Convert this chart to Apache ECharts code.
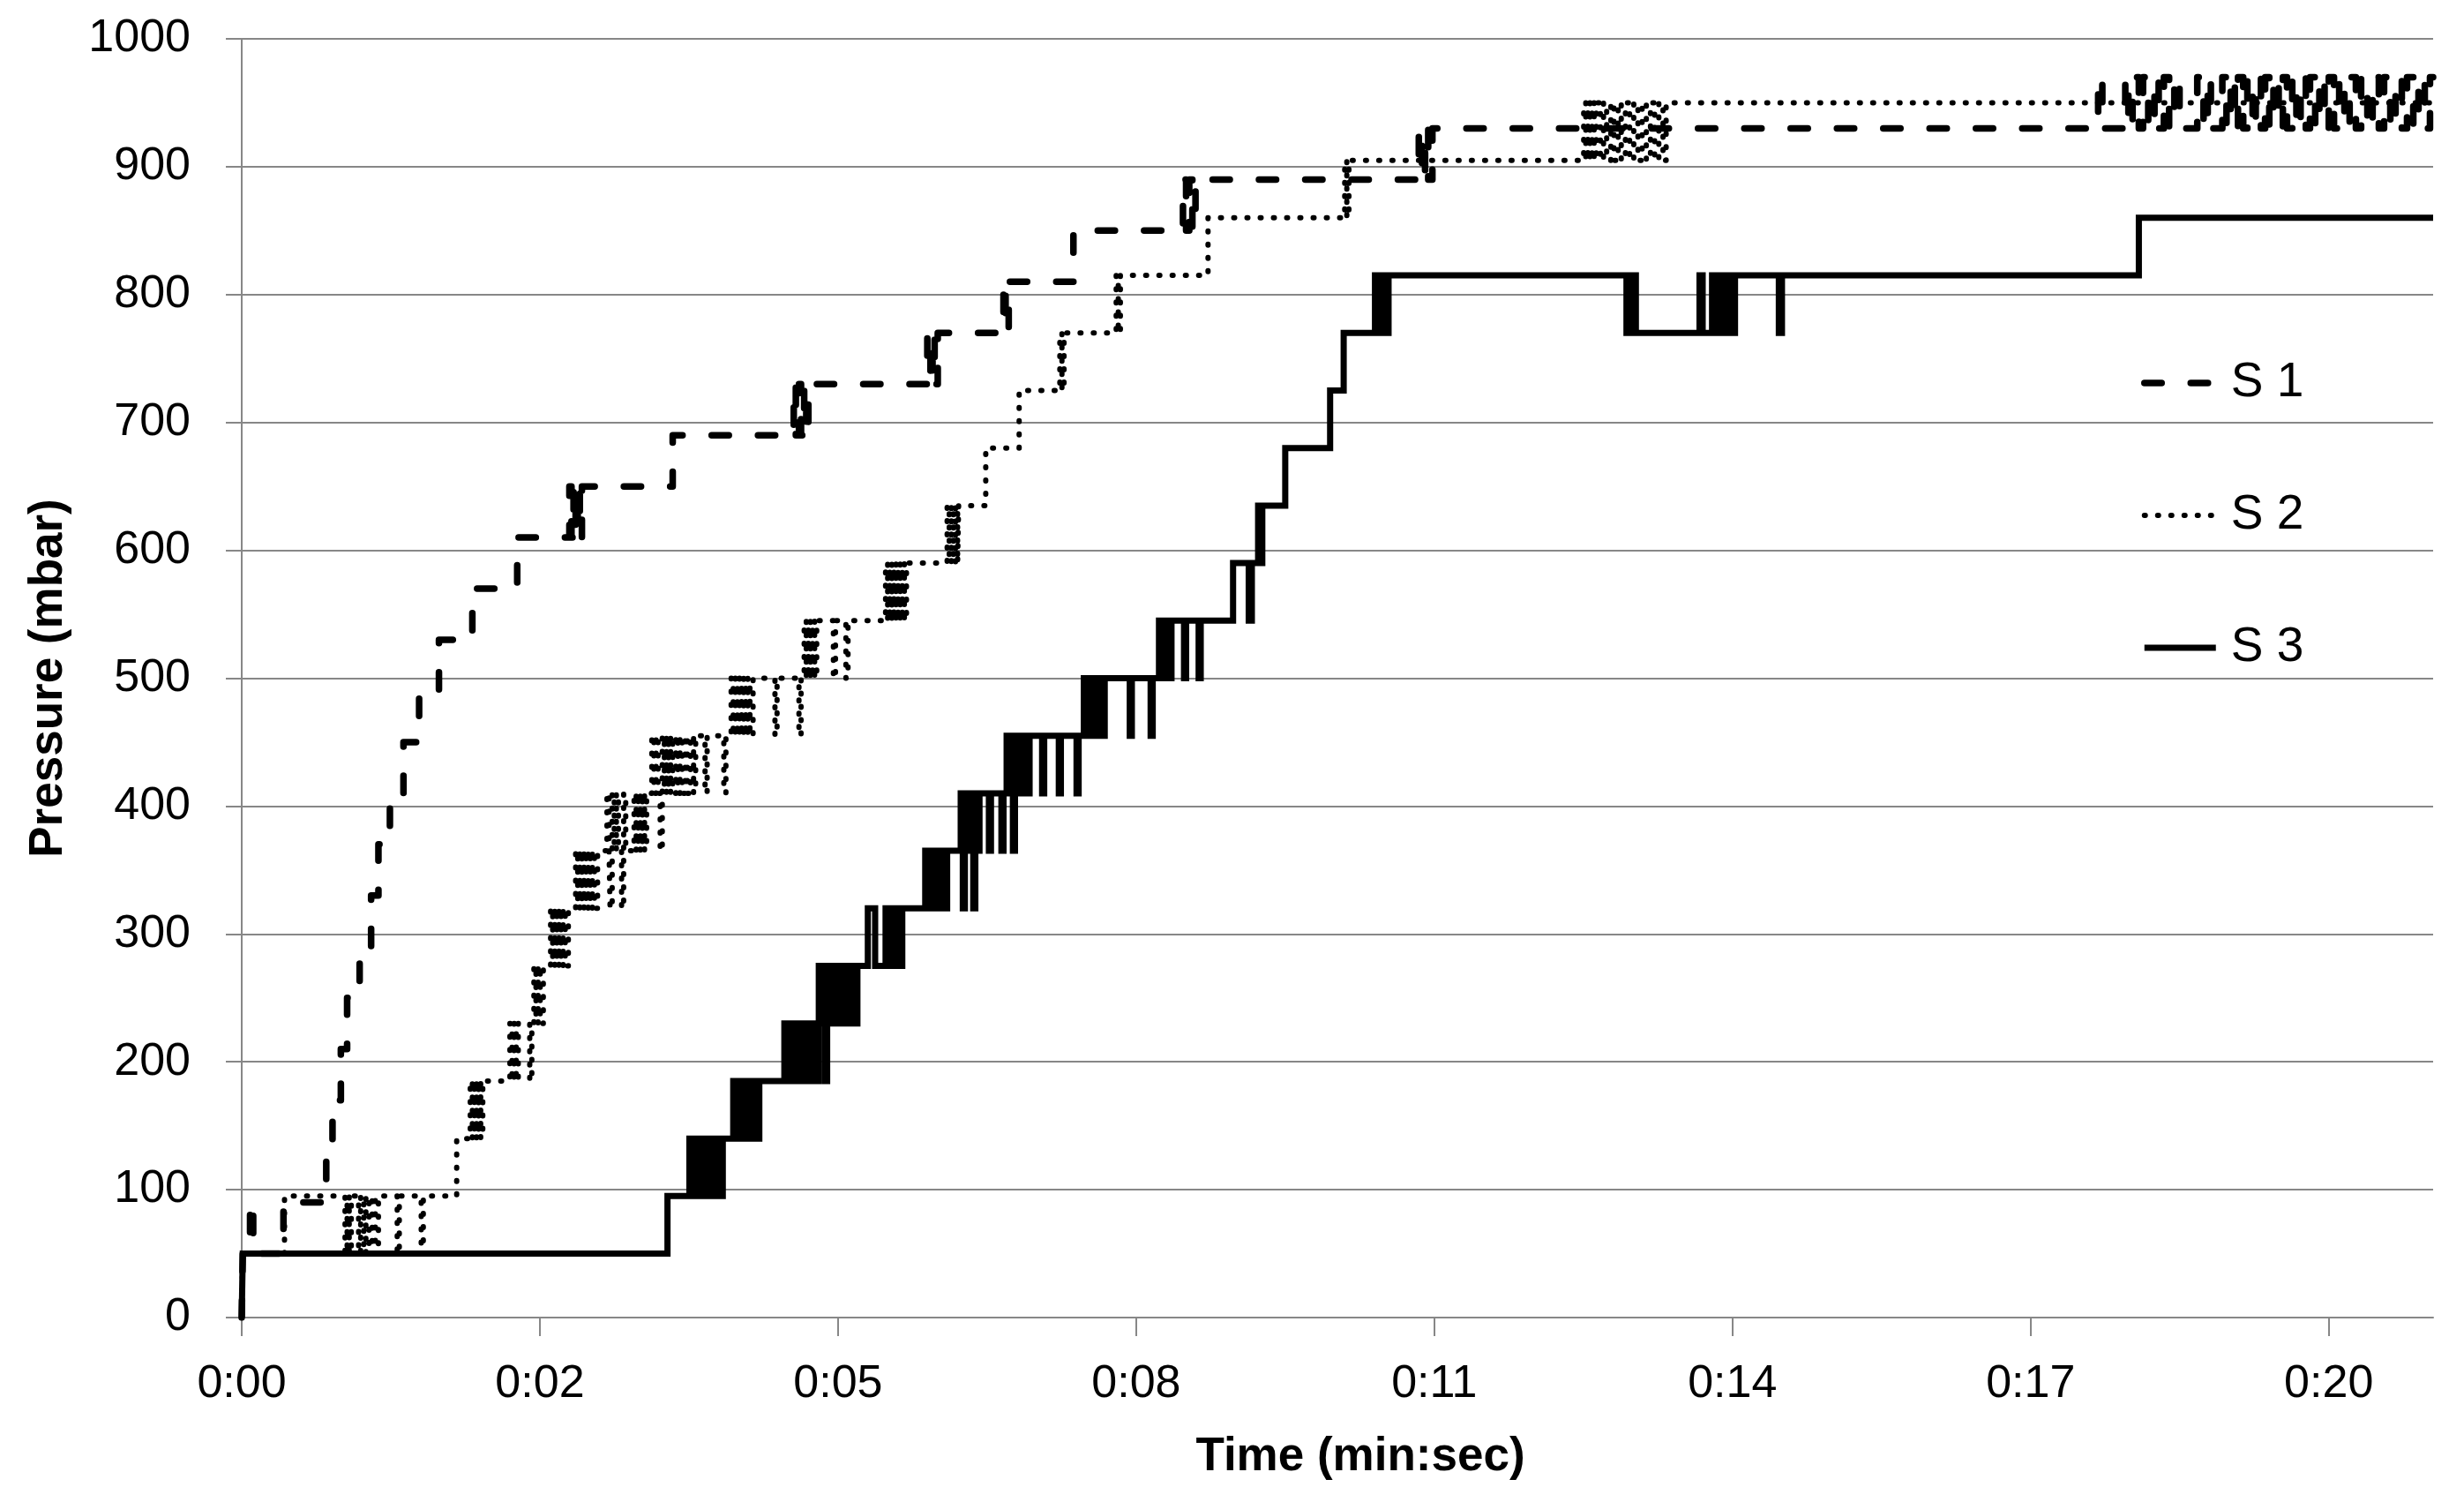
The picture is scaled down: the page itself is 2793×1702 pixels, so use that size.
<!DOCTYPE html>
<html>
<head>
<meta charset="utf-8">
<script src="https://cdn.jsdelivr.net/npm/echarts@6/dist/echarts.min.js"></script>
<style>
html,body{margin:0;padding:0;background:#ffffff;}
#chart{width:2793px;height:1702px;}
</style>
</head>
<body>
<div id="chart"></div>
<script>
// ---------- data ----------
const seriesNames = ['S 1', 'S 2', 'S 3'];
const xTickLabels = ['0:00', '0:02', '0:05', '0:08', '0:11', '0:14', '0:17', '0:20'];
const xTickStep = 20 / 7;          // seconds between labelled ticks
const xMaxSec = 21;                 // end of time axis (s)
const yTickMin = 0, yTickMax = 1000, yTickStep = 100;

// [time (s), pressure (mbar)] – value holds from this time until the next point
const s1 = [
  [0,0],[0.01,50],[0.08,90],[0.11,50],[0.40,90],[0.81,130],[0.87,170],[0.95,210],[1.01,250],
  [1.13,290],[1.24,330],[1.31,370],[1.42,410],[1.55,450],[1.70,490],[1.89,530],[2.21,570],
  [2.64,610],[3.14,650],[3.16,610],[3.18,650],[3.20,610],[3.22,650],[3.24,610],[3.26,650],
  [4.13,690],[5.29,730],[5.31,690],[5.34,730],[5.36,690],[5.39,730],[5.41,690],[5.43,730],
  [6.57,770],[6.60,730],[6.62,770],[6.64,730],[6.67,770],[7.30,810],[7.32,770],[7.35,810],
  [7.97,850],[9.02,890],[9.05,850],[9.08,890],[9.11,850],[9.14,890],
  [11.28,930],[11.31,890],[11.34,930],[11.37,890],[11.41,930],
  [17.79,970],[17.83,930],
  [18.05,970],[18.08,930],[18.12,970],[18.18,930],[18.22,970],[18.27,930],
  [18.33,970],[18.37,930],[18.42,970],[18.47,930],[18.52,970],[18.57,930],
  [18.74,970],[18.80,930],[18.84,970],[18.87,930],
  [18.98,970],[19.02,930],[19.06,970],[19.10,930],[19.13,970],[19.18,930],[19.22,970],[19.27,930],
  [19.30,970],[19.35,930],[19.39,970],[19.43,930],[19.47,970],[19.52,930],[19.56,970],[19.60,930],
  [19.65,970],[19.69,930],[19.73,970],[19.78,930],[19.82,970],[19.87,930],[19.91,970],[19.96,930],
  [20.00,970],[20.05,930],[20.10,970],[20.15,930],[20.20,970],[20.26,930],[20.31,970],[20.37,930],
  [20.42,970],[20.48,930],[20.53,970],[20.59,930],[20.64,970],[20.70,930],[20.75,970],[20.81,930],
  [20.86,970],[20.92,930],[20.97,970],[21,970]
];

const s2 = [
  [0,0],[0.01,50],[0.41,95],[0.99,50],[1.01,95],[1.03,50],[1.05,95],[1.12,50],[1.14,95],
  [1.17,50],[1.19,95],[1.22,50],[1.25,95],[1.28,50],[1.31,95],[1.49,50],[1.51,95],[1.72,50],[1.74,95],
  [2.06,140],[2.19,185],[2.21,140],[2.23,185],[2.25,140],[2.27,185],[2.29,140],[2.31,185],
  [2.57,230],[2.59,185],[2.61,230],[2.63,185],[2.65,230],[2.76,185],[2.78,230],
  [2.80,275],[2.82,230],[2.84,275],[2.86,230],[2.89,275],
  [2.96,320],[2.98,275],[3.00,320],[3.02,275],[3.04,320],[3.06,275],[3.08,320],[3.10,275],[3.13,320],
  [3.20,365],[3.22,320],[3.24,365],[3.26,320],[3.28,365],[3.30,320],[3.32,365],[3.34,320],
  [3.36,365],[3.38,320],[3.41,365],
  [3.50,410],[3.52,365],[3.53,320],[3.55,410],[3.57,365],[3.59,410],[3.61,365],[3.64,320],
  [3.66,410],[3.68,365],[3.76,410],[3.78,365],[3.80,410],[3.82,365],[3.84,410],[3.86,365],[3.88,410],
  [3.93,455],[3.95,410],[3.97,455],[3.99,410],[4.01,365],[4.03,455],[4.05,410],[4.07,455],
  [4.09,410],[4.11,455],[4.13,410],[4.16,455],[4.18,410],[4.20,455],[4.22,410],[4.25,455],
  [4.27,410],[4.30,455],[4.33,410],[4.35,455],[4.44,410],[4.46,455],[4.62,410],[4.64,455],
  [4.69,500],[4.71,455],[4.73,500],[4.75,455],[4.77,500],[4.79,455],[4.81,500],[4.83,455],
  [4.85,500],[4.87,455],[4.90,500],[5.11,455],[5.13,500],[5.34,455],[5.36,500],
  [5.39,545],[5.41,500],[5.43,545],[5.45,500],[5.47,545],[5.49,500],[5.51,545],
  [5.67,500],[5.69,545],[5.79,500],[5.81,545],
  [6.17,590],[6.19,545],[6.21,590],[6.23,545],[6.25,590],[6.27,545],[6.29,590],[6.31,545],
  [6.33,590],[6.35,545],[6.37,590],
  [6.76,635],[6.78,590],[6.80,635],[6.82,590],[6.84,635],[6.86,590],[6.87,635],
  [7.13,680],[7.45,725],[7.84,770],[7.86,725],[7.88,770],[8.38,815],[8.40,770],[8.42,815],
  [9.26,860],[10.57,905],[10.59,860],[10.61,905],
  [12.86,950],[12.88,905],[12.90,950],[12.92,905],[12.94,950],[12.96,905],[12.98,950],
  [13.02,905],[13.05,950],[13.08,905],[13.12,950],[13.15,905],[13.19,950],[13.22,905],
  [13.26,950],[13.30,905],[13.34,950],[13.38,905],[13.42,950],[13.46,905],[13.50,950],
  [13.54,905],[13.58,950],[13.62,905],[13.65,950],[21,950]
];

const s3 = [
  [0,0],[0.01,50],[4.08,95],
  [4.29,140],[4.31,95],[4.33,140],[4.35,95],[4.37,140],[4.39,95],[4.41,140],[4.43,95],
  [4.45,140],[4.47,95],[4.49,140],[4.51,95],[4.53,140],[4.55,95],[4.57,140],[4.59,95],[4.61,140],
  [4.71,185],[4.73,140],[4.75,185],[4.77,140],[4.79,185],[4.81,140],[4.83,185],[4.85,140],
  [4.87,185],[4.89,140],[4.91,185],[4.93,140],[4.96,185],
  [5.20,230],[5.22,185],[5.24,230],[5.26,185],[5.28,230],[5.30,185],[5.32,230],[5.34,185],
  [5.36,230],[5.38,185],[5.40,230],[5.42,185],[5.44,230],[5.46,185],[5.48,230],[5.50,185],
  [5.53,275],[5.55,230],[5.57,275],[5.59,185],[5.61,275],[5.63,230],[5.65,275],[5.67,230],
  [5.69,275],[5.71,230],[5.73,275],[5.75,230],[5.78,275],[5.81,230],[5.84,275],[5.88,230],[5.90,275],
  [6.00,320],[6.07,275],
  [6.17,320],[6.19,275],[6.21,320],[6.23,275],[6.25,320],[6.27,275],[6.29,320],[6.31,275],[6.33,320],
  [6.55,365],[6.57,320],[6.59,365],[6.61,320],[6.63,365],[6.65,320],[6.67,365],[6.69,320],
  [6.71,365],[6.73,320],[6.76,365],
  [6.89,410],[6.91,320],[6.93,410],[6.95,365],[6.97,410],[6.99,365],[7.01,320],[7.03,410],
  [7.05,365],[7.07,410],[7.16,365],[7.18,410],[7.28,365],[7.30,410],
  [7.33,455],[7.35,410],[7.37,455],[7.39,365],[7.41,455],[7.43,410],[7.45,455],[7.47,410],
  [7.50,455],[7.53,410],[7.55,455],[7.67,410],[7.69,455],[7.83,410],[7.85,455],[8.00,410],[8.02,455],
  [8.07,500],[8.09,455],[8.11,500],[8.13,455],[8.15,500],[8.17,455],[8.19,500],[8.21,455],
  [8.23,500],[8.25,455],[8.27,500],[8.51,455],[8.53,500],[8.71,455],[8.73,500],
  [8.79,545],[8.81,500],[8.83,545],[8.85,500],[8.87,545],[8.89,500],[8.91,545],
  [9.03,500],[9.05,545],[9.17,500],[9.19,545],
  [9.50,590],[9.65,545],[9.68,590],[9.74,635],[9.76,590],[9.78,635],[10.00,680],[10.43,725],[10.56,770],
  [10.86,815],[10.88,770],[10.90,815],[10.92,770],[10.94,815],[10.96,770],[10.99,815],
  [13.27,770],[13.29,815],[13.31,770],[13.33,815],[13.36,770],
  [13.97,815],[14.00,770],[14.09,815],[14.11,770],[14.13,815],[14.16,770],[14.19,815],
  [14.22,770],[14.25,815],[14.28,770],[14.31,815],[14.73,770],[14.76,815],
  [18.18,860],[21,860]
];

// ---------- chart ----------
const labelFont = "'Liberation Sans', Arial, sans-serif";
const titleFont = "'Liberation Sans Narrow', 'Liberation Sans', Arial, sans-serif";
const gridGray = '#878787';

const xTickValues = xTickLabels.map((_, i) => i * xTickStep);

function xLabel(v) {
  for (let i = 0; i < xTickValues.length; i++) {
    if (Math.abs(xTickValues[i] - v) < 1e-6) return xTickLabels[i];
  }
  return '';
}

const chart = echarts.init(document.getElementById('chart'), null, {renderer: 'canvas'});

const option = {
  backgroundColor: '#ffffff',
  animation: false,
  grid: {left: 274, right: 35, top: 44, bottom: 209, containLabel: false},
  legend: {
    data: seriesNames,
    orient: 'vertical',
    left: 2427,
    top: 406,
    padding: 0,
    itemWidth: 81,
    itemHeight: 14,
    itemGap: 94,
    itemStyle: {opacity: 0},
    lineStyle: {width: 'inherit'},
    textStyle: {
      fontFamily: titleFont, fontSize: 55, color: '#000000',
      lineHeight: 56, padding: [0, 0, 0, 12]
    }
  },
  xAxis: {
    type: 'value',
    min: 0,
    max: xMaxSec,
    name: 'Time (min:sec)',
    nameLocation: 'middle',
    nameGap: 132,
    nameTextStyle: {
      fontFamily: titleFont, fontSize: 53, fontWeight: 'bold', color: '#000000',
      padding: [0, 0, 0, 52]
    },
    axisLine: {show: true, onZero: false, lineStyle: {color: gridGray, width: 2}},
    axisTick: {show: true, length: 21, inside: false, customValues: xTickValues,
               lineStyle: {color: gridGray, width: 2}},
    axisLabel: {show: true, customValues: xTickValues, formatter: xLabel, margin: 50,
                fontFamily: labelFont, fontSize: 52, color: '#000000'},
    splitLine: {show: false}
  },
  yAxis: {
    type: 'value',
    min: yTickMin,
    max: yTickMax,
    interval: yTickStep,
    name: 'Pressure (mbar)',
    nameLocation: 'middle',
    nameGap: 192,
    nameTextStyle: {fontFamily: titleFont, fontSize: 53, fontWeight: 'bold', color: '#000000'},
    axisLine: {show: true, lineStyle: {color: gridGray, width: 2}},
    axisTick: {show: true, length: 18, inside: false, lineStyle: {color: gridGray, width: 2}},
    axisLabel: {margin: 58, fontFamily: labelFont, fontSize: 52, color: '#000000',
                formatter: v => String(v)},
    splitLine: {show: true, lineStyle: {color: gridGray, width: 2}}
  },
  series: [
    {
      name: seriesNames[0], type: 'line', step: 'end', data: s1,
      showSymbol: false, symbol: 'none', silent: true,
      lineStyle: {color: '#000000', width: 7.5, type: [19.5, 33], cap: 'round', join: 'round'},
      itemStyle: {color: '#000000'}
    },
    {
      name: seriesNames[1], type: 'line', step: 'end', data: s2,
      showSymbol: false, symbol: 'none', silent: true,
      lineStyle: {color: '#000000', width: 6, type: [1, 14], cap: 'round', join: 'round'},
      itemStyle: {color: '#000000'}
    },
    {
      name: seriesNames[2], type: 'line', step: 'end', data: s3,
      showSymbol: false, symbol: 'none', silent: true,
      lineStyle: {color: '#000000', width: 7, type: 'solid', join: 'miter'},
      itemStyle: {color: '#000000'}
    }
  ]
};

chart.setOption(option);
</script>
</body>
</html>
